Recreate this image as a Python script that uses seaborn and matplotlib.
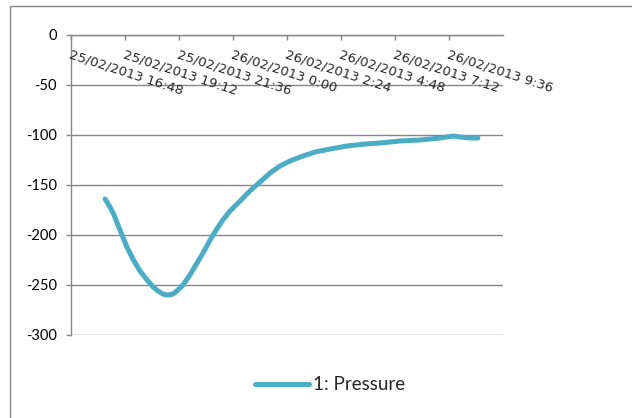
import matplotlib
matplotlib.use("Agg")
import matplotlib.pyplot as plt
import pandas as pd
import seaborn as sns
from matplotlib.patches import Rectangle

# Pressure log, 25-26 Feb 2013
times = [
    "2013-02-25 18:19", "2013-02-25 18:32", "2013-02-25 18:43", "2013-02-25 18:53",
    "2013-02-25 19:04", "2013-02-25 19:17", "2013-02-25 19:33", "2013-02-25 19:52",
    "2013-02-25 20:11", "2013-02-25 20:27", "2013-02-25 20:40", "2013-02-25 20:53",
    "2013-02-25 21:07", "2013-02-25 21:20", "2013-02-25 21:33", "2013-02-25 21:47",
    "2013-02-25 22:05", "2013-02-25 22:24", "2013-02-25 22:40", "2013-02-25 22:59",
    "2013-02-25 23:15", "2013-02-25 23:31", "2013-02-25 23:52", "2013-02-26 00:19",
    "2013-02-26 00:45", "2013-02-26 01:12", "2013-02-26 01:39", "2013-02-26 02:05",
    "2013-02-26 02:32", "2013-02-26 02:59", "2013-02-26 03:39", "2013-02-26 04:19",
    "2013-02-26 05:04", "2013-02-26 05:52", "2013-02-26 06:32", "2013-02-26 07:25",
    "2013-02-26 08:19", "2013-02-26 09:12", "2013-02-26 09:47", "2013-02-26 10:05",
    "2013-02-26 10:32", "2013-02-26 10:53",
]
pressure = [
    -164, -172, -180, -190,
    -200, -212, -224, -236,
    -245, -252, -256, -259,
    -260, -259, -255, -250,
    -240, -228, -218, -205,
    -195, -186, -176, -166,
    -156, -147, -138, -131,
    -126, -122, -117, -114,
    -111, -109, -108, -106,
    -105, -103, -101, -102,
    -103, -103,
]
series_name = "1: Pressure"

tick_times = [
    "2013-02-25 16:48", "2013-02-25 19:12", "2013-02-25 21:36", "2013-02-26 00:00",
    "2013-02-26 02:24", "2013-02-26 04:48", "2013-02-26 07:12", "2013-02-26 09:36",
]
x_start = "2013-02-25 16:48"
x_end = "2013-02-26 12:00"
y_ticks = [0, -50, -100, -150, -200, -250, -300]

line_color = "#4BACC6"
grid_color = "#868686"

sns.set_style("white")
plt.rcParams["font.family"] = ["Lato", "DejaVu Sans"]

fig = plt.figure(figsize=(6.32, 4.18), dpi=100)
ax = fig.add_axes([71 / 632, 83 / 418, 432 / 632, 300 / 418])

df = pd.DataFrame({"time": pd.to_datetime(times), "pressure": pressure})
sns.lineplot(data=df, x="time", y="pressure", ax=ax, color=line_color,
             linewidth=3.6, legend=False)
line = ax.lines[0]
line.set_solid_capstyle("round")
line.set_solid_joinstyle("round")

ax.set_xlim(pd.Timestamp(x_start), pd.Timestamp(x_end))
ax.set_ylim(-300, 0)
ax.set_yticks(y_ticks)
ax.set_yticklabels([str(v) for v in y_ticks])
ax.set_xlabel("")
ax.set_ylabel("")
ax.set_axisbelow(True)
ax.yaxis.grid(True, color=grid_color, linewidth=1.0)
ax.xaxis.grid(False)

for side in ("right", "bottom"):
    ax.spines[side].set_visible(False)
for side in ("left", "top"):
    ax.spines[side].set_visible(True)
    ax.spines[side].set_color(grid_color)
    ax.spines[side].set_linewidth(1.0)

ax.tick_params(axis="y", left=True, direction="out", length=3.6, width=1.0,
               color=grid_color, labelsize=10.5, pad=6.4, labelcolor="black")

# Date axis sits along the zero line at the top
tick_ts = pd.to_datetime(tick_times)
ax.set_xticks(tick_ts)
ax.tick_params(axis="x", bottom=False, top=True, direction="in", length=3.6,
               width=1.0, color=grid_color, labelbottom=False, labeltop=False)
for t in tick_ts:
    label = f"{t:%d/%m/%Y} {t.hour}:{t:%M}"
    ax.annotate(label, xy=(t, 0), xycoords="data", xytext=(1, -13),
                textcoords="offset pixels", rotation=-18,
                rotation_mode="anchor", ha="left", va="top",
                fontfamily="DejaVu Sans", fontsize=9.5, annotation_clip=False)

fig.legend(handles=[line], labels=[series_name], loc="center",
           bbox_to_anchor=(330 / 632, 1 - 385 / 418), frameon=False,
           fontsize=13.5, handlelength=2.9, handletextpad=0.2)

# Chart area frame
fig.add_artist(Rectangle((9.5 / 632, -0.05), 1.0, (418 - 6.5) / 418 + 0.05,
                         transform=fig.transFigure, fill=False,
                         edgecolor=grid_color, linewidth=1.0, clip_on=False))

fig.savefig("out.png", dpi=100)
